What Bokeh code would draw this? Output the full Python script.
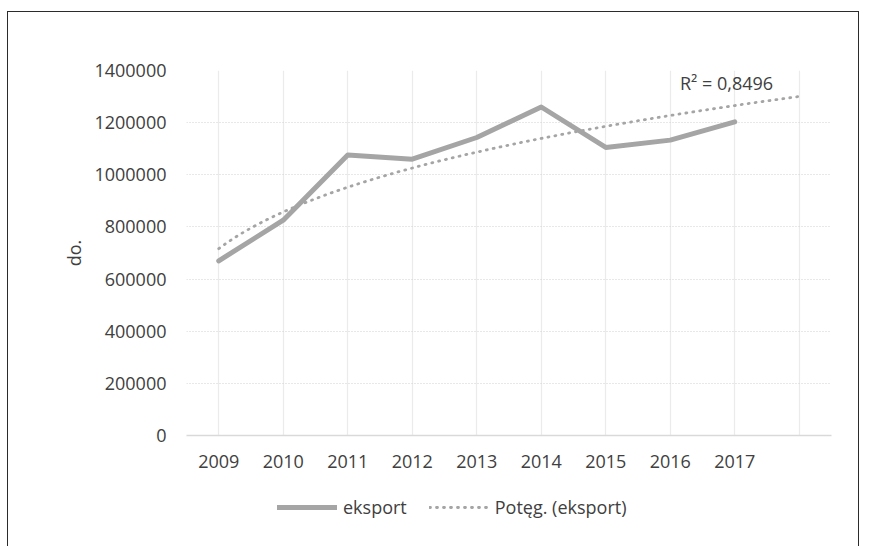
import numpy as np
from bokeh.plotting import figure
from bokeh.layouts import column
from bokeh.models import (Range1d, FixedTicker, Legend, LegendItem, Label,
                          BasicTickFormatter)
from bokeh.embed import file_html
from bokeh.resources import INLINE

# ---- data ----
years = [2009, 2010, 2011, 2012, 2013, 2014, 2015, 2016, 2017]
eksport = [670000, 826000, 1076000, 1060000, 1143000, 1260000, 1105000, 1133000, 1203000]
forecast_periods = 1
y_ticks = [0, 200000, 400000, 600000, 800000, 1000000, 1200000, 1400000]
series_name = "eksport"
trend_name = "Potęg. (eksport)"
r2_text = "R² = 0,8496"
y_title = "do."

FONT = "Open Sans"
TXT = "#404040"
FS = "18px"
LINE_C = "#A5A5A5"
MAIN_W = dict(line_color=LINE_C, line_width=5, line_join="round", line_cap="round")
TREND_W = dict(line_color=LINE_C, line_width=2.8, line_dash="1 6", line_cap="round")

# power trendline (least squares in log-log space, as a spreadsheet does)
t = np.arange(1, len(years) + 1)
b, ln_a = np.polyfit(np.log(t), np.log(eksport), 1)
tt = np.linspace(1, len(years) + forecast_periods, 200)
trend_x = years[0] - 1 + tt
trend_y = np.exp(ln_a) * tt ** b
all_years = years + [years[-1] + k for k in range(1, forecast_periods + 1)]

p = figure(width=850, height=470, output_backend="svg", toolbar_location=None,
           x_range=Range1d(years[0] - 0.5, all_years[-1] + 0.5),
           y_range=Range1d(y_ticks[0], y_ticks[-1]),
           min_border_left=178, min_border_right=27, min_border_top=58,
           min_border_bottom=47)
p.outline_line_color = None
p.background_fill_color = "white"
p.border_fill_color = "white"

# axes
p.xaxis.ticker = FixedTicker(ticks=years)
p.xaxis.formatter = BasicTickFormatter(use_scientific=False)
p.xaxis.axis_line_color = "#D9D9D9"
p.xaxis.axis_line_width = 1.3
p.xaxis.major_tick_line_color = None
p.xaxis.minor_tick_line_color = None
p.xaxis.major_tick_out = 0
p.xaxis.major_tick_in = 0
p.xaxis.major_label_standoff = 19
p.xaxis.major_label_text_font = FONT
p.xaxis.major_label_text_font_size = FS
p.xaxis.major_label_text_color = TXT

p.yaxis.ticker = FixedTicker(ticks=y_ticks)
p.yaxis.formatter = BasicTickFormatter(use_scientific=False)
p.yaxis.axis_line_color = None
p.yaxis.major_tick_line_color = None
p.yaxis.minor_tick_line_color = None
p.yaxis.major_tick_out = 0
p.yaxis.major_tick_in = 0
p.yaxis.major_label_standoff = 20
p.yaxis.major_label_text_font = FONT
p.yaxis.major_label_text_font_size = FS
p.yaxis.major_label_text_color = TXT
p.yaxis.axis_label = y_title
p.yaxis.axis_label_text_font = FONT
p.yaxis.axis_label_text_font_size = FS
p.yaxis.axis_label_text_font_style = "normal"
p.yaxis.axis_label_text_color = TXT
p.yaxis.axis_label_standoff = 5

# grids
p.xgrid.ticker = FixedTicker(ticks=all_years)
p.xgrid.grid_line_color = "#EBEBEB"
p.xgrid.grid_line_width = 1.2
p.ygrid.ticker = FixedTicker(ticks=y_ticks[1:])
p.ygrid.grid_line_color = "#D0D0D0"
p.ygrid.grid_line_width = 1
p.ygrid.grid_line_dash = "1 2"

# series
p.line(years, eksport, **MAIN_W)
p.line(trend_x, trend_y, **TREND_W)

p.add_layout(Label(x=2016.15, y=1352000, text=r2_text, text_baseline="middle",
                   text_font=FONT, text_font_size=FS, text_color=TXT))

# legend strip (separate canvas under the chart; its ranges keep the
# series out of view so only the legend samples show)
q = figure(width=850, height=64, output_backend="svg", toolbar_location=None,
           x_range=Range1d(0, 1), y_range=Range1d(0, 1),
           min_border_left=0, min_border_right=0, min_border_top=0,
           min_border_bottom=0)
q.axis.visible = False
q.grid.visible = False
q.outline_line_color = None
q.background_fill_color = "white"
q.border_fill_color = "white"
k_line = q.line(years, eksport, **MAIN_W)
k_trend = q.line(trend_x, trend_y, **TREND_W)
legend = Legend(items=[LegendItem(label=series_name, renderers=[k_line]),
                       LegendItem(label=trend_name, renderers=[k_trend])],
                orientation="horizontal", location=(91, 27),
                glyph_width=60, glyph_height=20, label_height=20,
                label_standoff=6, spacing=22, padding=0, margin=0,
                background_fill_alpha=0, border_line_color=None,
                label_text_font=FONT, label_text_font_size=FS,
                label_text_color=TXT)
q.add_layout(legend)

layout = column(p, q, spacing=0)
layout.styles = {"margin-left": "7px", "margin-top": "11px",
                 "border-left": "1.4px solid #2b2b2b",
                 "border-top": "1.4px solid #2b2b2b",
                 "border-right": "1.4px solid #2b2b2b"}

open("out.html", "w").write(file_html(layout, INLINE))
